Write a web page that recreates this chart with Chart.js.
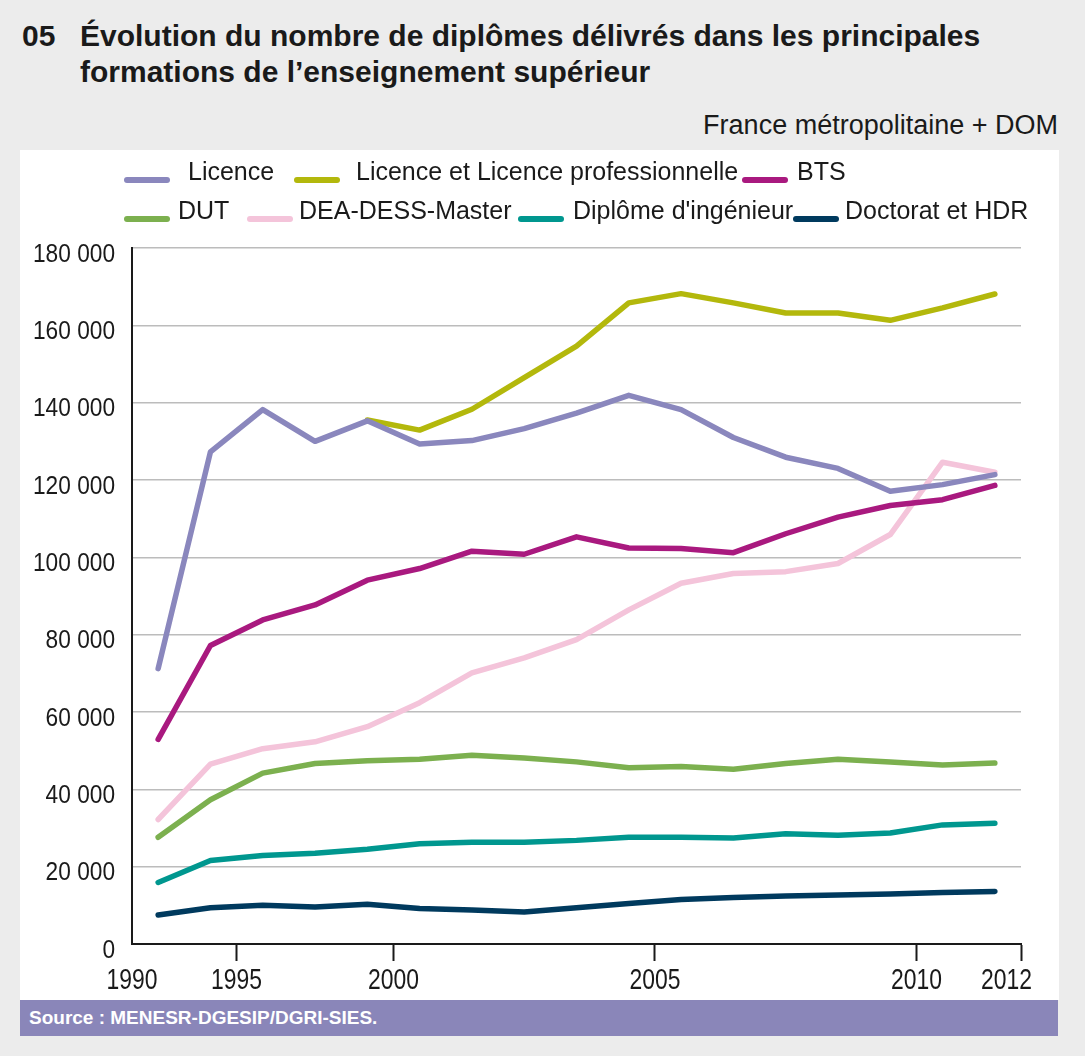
<!DOCTYPE html>
<html lang="fr">
<head>
<meta charset="utf-8">
<script src="https://cdn.jsdelivr.net/npm/chart.js@4.4.1/dist/chart.umd.min.js"></script>
<style>
  body {
    margin: 0;
    width: 1085px;
    height: 1056px;
    background: #ececec;
    position: relative;
    overflow: hidden;
    font-family: "Liberation Sans", Arial, sans-serif;
    color: #1a1a1a;
  }
  .title { position: absolute; font-weight: bold; font-size: 30px; line-height: 36px; white-space: nowrap; }
  #num { left: 22px; top: 18px; }
  #title { left: 80px; top: 18px; }
  #subtitle { position: absolute; right: 27px; top: 110px; font-size: 27px; white-space: nowrap; }
  #panel { position: absolute; left: 20px; top: 150px; width: 1039px; height: 850px; background: #fff; }
  #chart { position: absolute; left: 0; top: 0; }
  .lg-mark { position: absolute; width: 46px; height: 6px; border-radius: 3px; }
  .lg-text { position: absolute; font-size: 25px; white-space: nowrap; line-height: 28px; }
  #source {
    position: absolute; left: 20px; top: 1000px; width: 1038px; height: 36px;
    background: #8a86b9; color: #fff; font-weight: bold; font-size: 19px;
    line-height: 36px; box-sizing: border-box; padding-left: 9px;
  }
</style>
</head>
<body>
<div class="title" id="num">05</div>
<div class="title" id="title">Évolution du nombre de diplômes délivrés dans les principales<br>formations de l’enseignement supérieur</div>
<div id="subtitle">France métropolitaine + DOM</div>
<div id="panel">
  <canvas id="chart" width="1039" height="850"></canvas>
</div>
<div id="source">Source : MENESR-DGESIP/DGRI-SIES.</div>

<script>
// x slots of the 17 sessions, and where the year ticks fall between them
var slots = [0, 1, 2, 3, 4, 5, 6, 7, 8, 9, 10, 11, 12, 13, 14, 15, 16];
var tickSlots = [-0.5, 1.5, 4.5, 9.5, 14.5, 16.5];
var tickLabels = ['1990', '1995', '2000', '2005', '2010', '2012'];

var seriesNames = ['Licence', 'Licence et Licence professionnelle', 'BTS',
  'DUT', 'DEA-DESS-Master', "Diplôme d'ingénieur", 'Doctorat et HDR'];

var licence   = [71200, 127300, 138200, 130000, 135300, 129300, 130200, 133300, 137300, 141900, 138200, 131000, 125900, 123000, 117100, 118800, 121400];
var licenceLP = [null, null, null, null, 135500, 132900, 138300, 146500, 154600, 165800, 168200, 165800, 163200, 163200, 161300, 164500, 168100];
var bts       = [52900, 77200, 83800, 87700, 94100, 97100, 101600, 100800, 105300, 102400, 102300, 101200, 106100, 110400, 113400, 114900, 118600];
var dut       = [27600, 37300, 44200, 46700, 47400, 47800, 48800, 48100, 47100, 45600, 45900, 45200, 46700, 47800, 47100, 46300, 46800];
var master    = [32200, 46500, 50500, 52300, 56200, 62400, 70100, 74000, 78700, 86400, 93300, 95800, 96300, 98400, 105900, 124600, 122000];
var ingenieur = [15900, 21600, 22900, 23500, 24500, 25900, 26300, 26300, 26800, 27600, 27600, 27400, 28500, 28100, 28700, 30800, 31200];
var doctorat  = [7500, 9400, 10000, 9600, 10300, 9200, 8800, 8300, 9400, 10500, 11500, 12000, 12400, 12700, 12900, 13300, 13600];

var seriesValues = [licence, licenceLP, bts, dut, master, ingenieur, doctorat];
var seriesColors = ['#8a87bd', '#b3b80c', '#a9197f', '#7cb04f', '#f4c4da', '#00978f', '#003a5e'];

// legend layout, inside the white panel
var legendMarkLeft = [104, 274, 722, 104, 227, 498, 773];
var legendTextLeft = [168, 336, 777, 158, 279, 553, 825];
var legendRowTop = [12, 51];

var panel = document.getElementById('panel');
seriesNames.forEach(function (name, i) {
  var row = i < 3 ? 0 : 1;
  var mark = document.createElement('div');
  mark.className = 'lg-mark';
  mark.style.background = seriesColors[i];
  mark.style.left = legendMarkLeft[i] + 'px';
  mark.style.top = (legendRowTop[row] + 15) + 'px';
  panel.appendChild(mark);
  var txt = document.createElement('div');
  txt.className = 'lg-text';
  txt.textContent = name;
  txt.style.left = legendTextLeft[i] + 'px';
  txt.style.top = (legendRowTop[row] - 5) + 'px';
  panel.appendChild(txt);
});

function frNumber(v) {
  return String(v).replace(/\B(?=(\d{3})+(?!\d))/g, ' ');
}

var fontFamily = '"Liberation Sans", Arial, sans-serif';

// the source uses narrow figures for the axis labels: draw them condensed
var narrowTicks = {
  id: 'narrowTicks',
  afterDraw: function (chart) {
    var ctx = chart.ctx;
    var xs = chart.scales.x, ys = chart.scales.y;
    ctx.save();
    ctx.fillStyle = '#1a1a1a';
    ctx.textBaseline = 'alphabetic';

    ctx.font = '25.5px ' + fontFamily;
    ctx.textAlign = 'right';
    ys.ticks.forEach(function (t) {
      var y = ys.getPixelForValue(t.value);
      ctx.save();
      ctx.translate(ys.right - 17, y + 13.5);
      ctx.scale(0.89, 1);
      ctx.fillText(frNumber(t.value), 0, 0);
      ctx.restore();
    });

    ctx.font = '29px ' + fontFamily;
    xs.ticks.forEach(function (t, i) {
      var x = xs.getPixelForValue(t.value);
      var last = i === xs.ticks.length - 1;
      ctx.save();
      ctx.translate(last ? x + 11 : x, xs.top + 45);
      ctx.scale(0.79, 1);
      ctx.textAlign = last ? 'right' : 'center';
      ctx.fillText(tickLabels[i], 0, 0);
      ctx.restore();
    });
    ctx.restore();
  }
};

var datasets = seriesValues.map(function (vals, i) {
  return {
    label: seriesNames[i],
    data: vals.map(function (v, k) { return { x: slots[k], y: v }; }),
    borderColor: seriesColors[i],
    backgroundColor: seriesColors[i],
    borderWidth: 5.5,
    borderCapStyle: 'round',
    borderJoinStyle: 'round',
    pointRadius: 0,
    tension: 0,
    spanGaps: false
  };
});

new Chart(document.getElementById('chart'), {
  type: 'line',
  data: { datasets: datasets },
  plugins: [narrowTicks],
  options: {
    responsive: false,
    animation: false,
    layout: { padding: { top: 98, right: 38, left: 0, bottom: 0 } },
    plugins: { legend: { display: false }, tooltip: { enabled: false } },
    scales: {
      x: {
        type: 'linear',
        min: -0.5,
        max: 16.5,
        afterBuildTicks: function (scale) {
          scale.ticks = tickSlots.map(function (v) { return { value: v }; });
        },
        afterFit: function (scale) { scale.height = 56; },
        ticks: { display: false, autoSkip: false, maxRotation: 0 },
        grid: {
          drawOnChartArea: false,
          drawTicks: true,
          tickLength: 17,
          tickWidth: 2,
          tickColor: function (ctx) { return ctx.index === 0 ? 'rgba(0,0,0,0)' : '#1a1a1a'; }
        },
        border: { color: '#1a1a1a', width: 2 }
      },
      y: {
        min: 0,
        max: 180000,
        afterFit: function (scale) { scale.width = 112; },
        ticks: { display: false, stepSize: 20000 },
        grid: {
          drawTicks: false,
          color: function (ctx) { return ctx.tick.value === 0 ? 'rgba(0,0,0,0)' : '#bcbcbc'; },
          lineWidth: 1.5
        },
        border: { color: '#1a1a1a', width: 2 }
      }
    }
  }
});
</script>
</body>
</html>
